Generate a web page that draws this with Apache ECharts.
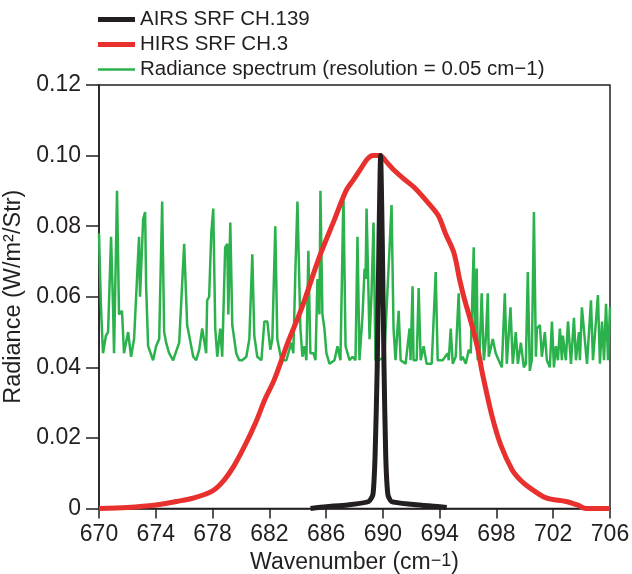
<!DOCTYPE html>
<html><head><meta charset="utf-8">
<script src="https://cdn.jsdelivr.net/npm/echarts@6/dist/echarts.min.js"></script>
<style>html,body{margin:0;padding:0;background:#fff}#c{width:632px;height:574px}</style>
</head><body><div id="c"></div>
<script>
const xTicks = [670,674,678,682,686,690,694,698,702,706];
const yTicks = [0,0.02,0.04,0.06,0.08,0.10,0.12];
const seriesNames = ['AIRS SRF CH.139','HIRS SRF CH.3','Radiance spectrum (resolution = 0.05 cm\u22121)'];

const airsSRF = [[684.9,0],[686,0.0005],[687.5,0.001],[689.0,0.002],[689.3,0.004],[689.45,0.015],[689.6,0.04],[689.72,0.075],[689.84,0.1],[689.96,0.075],[690.08,0.04],[690.2,0.015],[690.35,0.004],[690.6,0.002],[692,0.0012],[694.5,0.0003]];

const hirsSRF = [[670,0],[672,0.0003],[674,0.001],[675.5,0.002],[676.7,0.003],[678,0.005],[678.8,0.008],[679.5,0.012],[680.3,0.018],[681,0.024],[681.7,0.031],[682.35,0.0365],[683.3,0.047],[684.3,0.057],[685.5,0.071],[686.6,0.082],[687.4,0.09],[687.9,0.093],[688.4,0.096],[688.9,0.099],[689.3,0.1],[689.8,0.1],[690.3,0.098],[690.75,0.096],[691.6,0.093],[692.2,0.091],[693.1,0.087],[693.9,0.083],[694.4,0.078],[695.0,0.0725],[695.4,0.065],[695.7,0.06],[696.3,0.0515],[696.7,0.045],[697.0,0.0385],[697.7,0.026],[698.3,0.018],[699.1,0.011],[699.7,0.008],[700.3,0.006],[701.5,0.003],[702.9,0.002],[703.7,0.001],[704.3,0],[706,0]];

const radianceSpectrum = [
[670.0,0.078],[670.07,0.067],[670.14,0.057],[670.28,0.044],[670.49,0.049],[670.64,0.050],[670.85,0.077],[670.99,0.057],[671.06,0.044],[671.27,0.090],[671.41,0.055],[671.62,0.056],[671.76,0.044],[672.05,0.050],[672.26,0.043],[672.47,0.048],[672.82,0.077],[672.89,0.060],[673.11,0.082],[673.25,0.084],[673.32,0.063],[673.46,0.046],[673.81,0.042],[674.02,0.046],[674.24,0.048],[674.45,0.087],[674.59,0.050],[674.73,0.047],[674.94,0.044],[675.22,0.042],[675.65,0.047],[676.0,0.075],[676.21,0.052],[676.35,0.052],[676.64,0.043],[676.85,0.042],[677.06,0.045],
[677.27,0.051],[677.55,0.044],[677.62,0.059],[677.76,0.060],[677.91,0.078],[678.05,0.085],[678.19,0.051],[678.33,0.043],[678.54,0.051],[678.68,0.043],[678.89,0.074],[679.04,0.075],[679.11,0.055],[679.25,0.081],[679.39,0.052],[679.67,0.044],[679.88,0.042],[680.09,0.042],[680.38,0.043],[680.59,0.048],[680.80,0.072],[680.94,0.049],[681.15,0.043],[681.44,0.042],[681.65,0.053],[681.86,0.053],[682.07,0.045],[682.21,0.048],[682.42,0.080],[682.56,0.048],[682.85,0.042],[683.20,0.042],[683.55,0.047],[683.69,0.044],[683.84,0.068],[683.98,0.087],[684.19,0.051],[684.33,0.043],
[684.47,0.046],[684.61,0.042],[684.75,0.073],[684.89,0.044],[685.11,0.044],[685.25,0.042],[685.39,0.065],[685.53,0.055],[685.60,0.090],[685.74,0.055],[685.88,0.051],[686.02,0.044],[686.24,0.041],[686.59,0.042],[686.80,0.046],[687.01,0.042],[687.22,0.089],[687.37,0.046],[687.65,0.042],[687.86,0.043],[688.07,0.042],[688.21,0.077],[688.35,0.042],[688.57,0.055],[688.71,0.068],[688.78,0.065],[688.85,0.085],[689.06,0.048],[689.20,0.061],[689.34,0.081],[689.48,0.042],[689.7,0.042],[690.1,0.043],[690.47,0.074],[690.61,0.086],[690.75,0.051],[690.89,0.042],[691.11,0.056],[691.25,0.042],[691.60,0.041],
[691.74,0.041],[691.88,0.051],[691.95,0.042],[692.09,0.063],[692.16,0.042],[692.38,0.042],[692.52,0.0625],[692.66,0.042],[692.87,0.046],[693.08,0.041],[693.44,0.041],[693.72,0.067],[693.86,0.042],[694.21,0.042],[694.57,0.044],[694.64,0.042],[694.78,0.051],[694.92,0.041],[695.13,0.043],[695.34,0.061],[695.48,0.042],[695.62,0.043],[695.84,0.041],[696.05,0.045],[696.19,0.044],[696.40,0.074],[696.47,0.050],[696.61,0.068],[696.68,0.042],[696.82,0.045],[696.96,0.061],[697.11,0.042],[697.25,0.048],[697.39,0.061],[697.46,0.043],[697.74,0.048],[697.95,0.044],[698.16,0.042],[698.38,0.040],[698.59,0.061],[698.73,0.041],
[698.87,0.041],[698.99,0.057],[699.15,0.041],[699.36,0.050],[699.51,0.041],[699.72,0.047],[699.93,0.040],[700.07,0.041],[700.21,0.067],[700.35,0.039],[700.49,0.042],[700.64,0.084],[700.78,0.043],[700.85,0.051],[701.06,0.052],[701.20,0.043],[701.41,0.050],[701.55,0.042],[701.76,0.040],[701.91,0.053],[702.05,0.040],[702.19,0.046],[702.33,0.042],[702.47,0.051],[702.61,0.042],[702.68,0.049],[702.89,0.042],[703.04,0.053],[703.25,0.041],[703.46,0.054],[703.60,0.042],[703.81,0.050],[703.88,0.042],[704.02,0.057],[704.16,0.057],[704.38,0.041],[704.66,0.059],[704.80,0.042],[705.15,0.0605],[705.29,0.041],[705.44,0.053],[705.58,0.042],[705.72,0.058],[705.86,0.042],[706.0,0.057]
];

const FONT = "'Liberation Sans', Arial, Helvetica, sans-serif";
const INK = '#231f20';
const GREEN = '#2bb24c', RED = '#e8302e';
const thickIcon = 'path://M0,0L0,0M37,10L37,10M0,2.5L37,2.5L37,7.5L0,7.5Z';
const thinIcon = 'path://M0,0L0,0M37,10L37,10M0,3.8L37,3.8L37,6.2L0,6.2Z';
const chart = echarts.init(document.getElementById('c'), null, {renderer:'canvas'});
chart.setOption({
  animation: false,
  backgroundColor: '#fff',
  textStyle: {fontFamily: FONT, color: INK},
  grid: {left: 99, right: 22, top: 85, bottom: 65.5, show: true, borderColor: INK, borderWidth: 1.5,
    containLabel: false, outerBoundsMode: 'none'},
  legend: {
    orient: 'vertical', left: 98, top: 9, padding: 0, itemWidth: 37, itemHeight: 10, itemGap: 4,
    itemStyle: {borderWidth: 0},
    textStyle: {fontFamily: FONT, fontSize: 20.5, color: INK, lineHeight: 20},
    data: [
      {name: seriesNames[0], icon: thickIcon, itemStyle: {color: INK}},
      {name: seriesNames[1], icon: thickIcon, itemStyle: {color: RED}},
      {name: seriesNames[2], icon: thinIcon, itemStyle: {color: GREEN}}
    ]
  },
  xAxis: {
    type: 'value', min: 670, max: 706,
    name: '{a|Wavenumber (cm}{s|\u22121}{a|)}', nameLocation: 'middle', nameGap: 40,
    nameTextStyle: {rich: {a: {fontFamily: FONT, fontSize: 23, color: INK}, s: {fontFamily: FONT, fontSize: 18, color: INK, padding:[0,0,3,0]}}},
    axisLine: {show: true, lineStyle: {color: INK, width: 1.5}},
    axisTick: {show: true, inside: false, length: 10, lineStyle: {color: INK, width: 1.5}, customValues: xTicks},
    axisLabel: {show: true, fontFamily: FONT, fontSize: 23, color: INK, margin: 15, customValues: xTicks},
    splitLine: {show: false}
  },
  yAxis: {
    type: 'value', min: 0, max: 0.12, interval: 0.02,
    name: 'Radiance (W/m\u00b2/Str)', nameLocation: 'middle', nameGap: 66,
    nameTextStyle: {fontFamily: FONT, fontSize: 23.5, color: INK},
    axisLine: {show: true, lineStyle: {color: INK, width: 1.5}},
    axisTick: {show: true, inside: false, length: 13, lineStyle: {color: INK, width: 1.5}},
    axisLabel: {show: true, fontFamily: FONT, fontSize: 23, color: INK, margin: 18,
      formatter: v => (Math.abs(v) < 1e-9 ? '0' : v.toFixed(2))},
    splitLine: {show: false}
  },
  series: [
    {name: seriesNames[2], type: 'line', data: radianceSpectrum, showSymbol: false, symbol: 'none', z: 1,
      lineStyle: {color: GREEN, width: 2.5}, itemStyle: {color: GREEN}},
    {name: seriesNames[1], type: 'line', data: hirsSRF, showSymbol: false, symbol: 'none', smooth: 0.3, z: 2,
      lineStyle: {color: RED, width: 5}, itemStyle: {color: RED}},
    {name: seriesNames[0], type: 'line', data: airsSRF, showSymbol: false, symbol: 'none', smooth: 0.2, z: 3,
      lineStyle: {color: INK, width: 5}, itemStyle: {color: INK}}
  ]
});
</script></body></html>
